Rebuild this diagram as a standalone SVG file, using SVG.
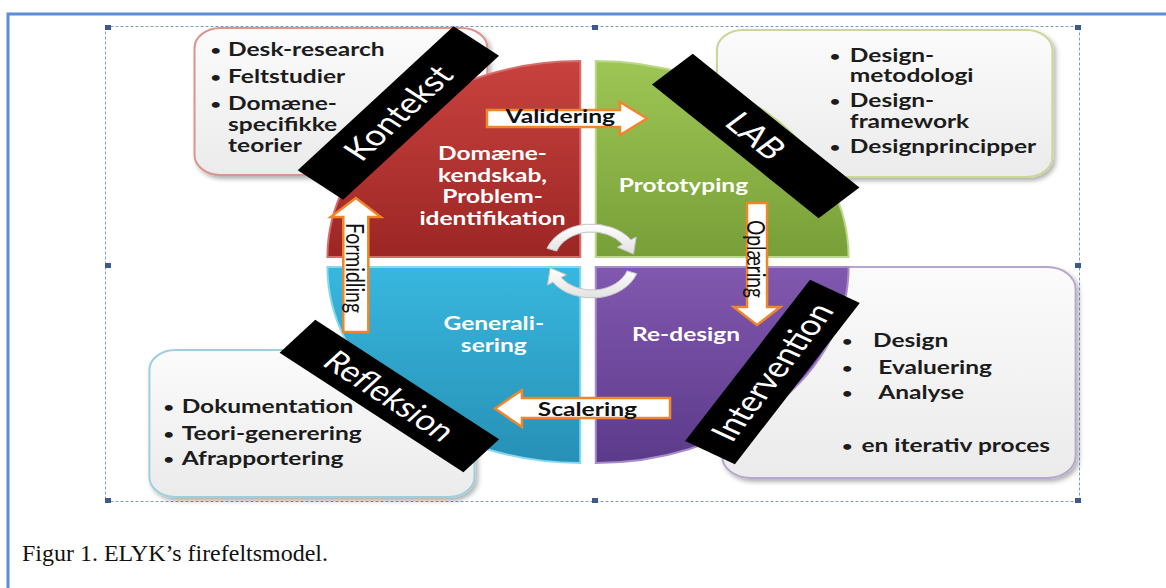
<svg xmlns="http://www.w3.org/2000/svg" width="1166" height="588" viewBox="0 0 1166 588">
  <style>
    .frame{fill:none;stroke:#5b8ed6;stroke-width:3}
    .sel{fill:none;stroke:#7f9cc4;stroke-width:1;stroke-dasharray:3 2}
    .handle{fill:#3d5a8a}
    .box{stroke-width:2;vector-effect:non-scaling-stroke}
    .item{font-family:Lato,"Open Sans",sans-serif;font-weight:700;font-size:19px;fill:#1c1c1c}
    .bullet{font-family:Lato,"Open Sans",sans-serif;font-weight:700;font-size:14px;fill:#1c1c1c;text-anchor:middle}
    .quad{stroke-width:2;vector-effect:non-scaling-stroke}
    .quad-label{font-family:Lato,"Open Sans",sans-serif;font-weight:700;font-size:19px;fill:#fff;text-anchor:middle}
    .band{fill:#000}
    .band-label{font-family:Lato,"Open Sans",sans-serif;font-size:29px;fill:#fff;text-anchor:middle}
    .flow{fill:#fff;stroke:#f0862a;stroke-width:2.5;stroke-linejoin:miter;vector-effect:non-scaling-stroke}
    .flow-label{font-family:Lato,"Open Sans",sans-serif;font-size:19px;fill:#111}
    .cycle{fill:url(#gCycle);stroke:#c4c4c4;stroke-width:1;vector-effect:non-scaling-stroke}
    .caption{font-family:"Liberation Serif",serif;font-size:23px;fill:#111}
  </style>
  <defs>
    <linearGradient id="gRed" x1="0" y1="0" x2="0" y2="1">
      <stop offset="0" stop-color="#c8423f"/><stop offset="1" stop-color="#9c2624"/>
    </linearGradient>
    <linearGradient id="gGreen" x1="0" y1="0" x2="0" y2="1">
      <stop offset="0" stop-color="#9dc655"/><stop offset="1" stop-color="#789f38"/>
    </linearGradient>
    <linearGradient id="gBlue" x1="0" y1="0" x2="0" y2="1">
      <stop offset="0" stop-color="#38b7de"/><stop offset="1" stop-color="#2790b6"/>
    </linearGradient>
    <linearGradient id="gPurple" x1="0" y1="0" x2="0" y2="1">
      <stop offset="0" stop-color="#8158af"/><stop offset="1" stop-color="#5c3a8a"/>
    </linearGradient>
    <linearGradient id="gBox" x1="0" y1="0" x2="0" y2="1">
      <stop offset="0" stop-color="#fbfbfb"/><stop offset="1" stop-color="#ebebeb"/>
    </linearGradient>
    <linearGradient id="gCycle" x1="0" y1="0" x2="0" y2="1">
      <stop offset="0" stop-color="#ffffff"/><stop offset="1" stop-color="#e2e2e2"/>
    </linearGradient>
    <filter id="shadow" x="-10%" y="-10%" width="125%" height="130%">
      <feDropShadow dx="2" dy="3" stdDeviation="2" flood-color="#000" flood-opacity="0.3"/>
    </filter>
  </defs>

  <!-- page frame and selection outline -->
  <path class="frame" d="M8,588 V14 H1166"/>
  <rect class="sel" x="105.5" y="26.5" width="974" height="475"/>
  <g id="handles">
    <rect class="handle" x="105" y="25" width="6" height="5"/>
    <rect class="handle" x="592" y="25" width="6" height="5"/>
    <rect class="handle" x="1075" y="25" width="6" height="5"/>
    <rect class="handle" x="105" y="263" width="6" height="5"/>
    <rect class="handle" x="1075" y="263" width="6" height="5"/>
    <rect class="handle" x="105" y="498" width="6" height="5"/>
    <rect class="handle" x="592" y="498" width="6" height="5"/>
    <rect class="handle" x="1075" y="498" width="6" height="5"/>
  </g>

  <!-- the model is laid out on a circle and widened horizontally -->
  <g id="model" transform="matrix(1.29,0,0,1,-170.52,0)">

    <g id="box-kontekst">
      <rect class="box" x="283" y="28" width="227" height="147" rx="20" fill="url(#gBox)" stroke="#d9958f" filter="url(#shadow)"/>
      <text class="bullet" x="299.5" y="55">•</text>
      <text class="item" x="309" y="56">Desk-research</text>
      <text class="bullet" x="299.5" y="82">•</text>
      <text class="item" x="309" y="83">Feltstudier</text>
      <text class="bullet" x="299.5" y="109">•</text>
      <text class="item" x="309" y="110">Domæne-</text>
      <text class="item" x="309" y="131">specifikke</text>
      <text class="item" x="309" y="152">teorier</text>
    </g>

    <g id="box-lab">
      <rect class="box" x="688" y="30" width="260" height="147" rx="20" fill="url(#gBox)" stroke="#c9d69c" filter="url(#shadow)"/>
      <text class="bullet" x="779.5" y="61">•</text>
      <text class="item" x="791" y="62">Design-</text>
      <text class="item" x="791" y="82">metodologi</text>
      <text class="bullet" x="779.5" y="106">•</text>
      <text class="item" x="791" y="107">Design-</text>
      <text class="item" x="791" y="128">framework</text>
      <text class="bullet" x="779.5" y="152">•</text>
      <text class="item" x="791" y="153">Designprincipper</text>
    </g>

    <g id="box-intervention">
      <rect class="box" x="692" y="267" width="274" height="211" rx="22" fill="url(#gBox)" stroke="#b6a7cc" filter="url(#shadow)"/>
      <text class="bullet" x="789" y="346">•</text>
      <text class="item" x="809" y="347">Design</text>
      <text class="bullet" x="789" y="373">•</text>
      <text class="item" x="813" y="374">Evaluering</text>
      <text class="bullet" x="789" y="398">•</text>
      <text class="item" x="813" y="399">Analyse</text>
      <text class="bullet" x="789" y="451">•</text>
      <text class="item" x="800" y="452">en iterativ proces</text>
    </g>

    <g id="box-refleksion">
      <rect class="box" x="248" y="350" width="252" height="147" rx="20" fill="url(#gBox)" stroke="#9fcfdc" filter="url(#shadow)"/>
      <text class="bullet" x="263" y="412">•</text>
      <text class="item" x="273" y="413">Dokumentation</text>
      <text class="bullet" x="263" y="439">•</text>
      <text class="item" x="273" y="440">Teori-generering</text>
      <text class="bullet" x="263" y="464">•</text>
      <text class="item" x="273" y="465">Afrapportering</text>
    </g>

    <!-- four quadrants -->
    <g id="quad-domaene">
      <path class="quad" d="M582,257 L386,257 A196,196 0 0 1 582,61 Z" fill="url(#gRed)" stroke="#d56e6b"/>
      <text class="quad-label"><tspan x="514" y="160">Domæne-</tspan><tspan x="514" y="182">kendskab,</tspan><tspan x="514" y="203">Problem-</tspan><tspan x="514" y="225">identifikation</tspan></text>
    </g>
    <g id="quad-prototyping">
      <path class="quad" d="M594,257 L594,61 A196,196 0 0 1 790,257 Z" fill="url(#gGreen)" stroke="#bcd98a"/>
      <text class="quad-label" x="662" y="192">Prototyping</text>
    </g>
    <g id="quad-generalisering">
      <path class="quad" d="M582,267 L582,463 A196,196 0 0 1 386,267 Z" fill="url(#gBlue)" stroke="#86d8f0"/>
      <text class="quad-label"><tspan x="515" y="330">Generali-</tspan><tspan x="515" y="352">sering</tspan></text>
    </g>
    <g id="quad-redesign">
      <path class="quad" d="M594,267 L790,267 A196,196 0 0 1 594,463 Z" fill="url(#gPurple)" stroke="#a78bcb"/>
      <text class="quad-label" x="664" y="341">Re-design</text>
    </g>

    <!-- connectors -->
    <g id="connectors">
      <path class="cycle" d="M556.2,248.3 A37,37 0 0 1 621.3,239.8 L625.4,236.9 L623.3,254.1 L610.7,247.2 L614.8,244.4 A29,29 0 0 0 563.7,251.1 Z"/>
      <path class="cycle" d="M625.8,273.7 A37,37 0 0 1 560.7,282.2 L556.6,285.1 L558.7,267.9 L571.3,274.8 L567.2,277.6 A29,29 0 0 0 618.3,270.9 Z"/>

      <polygon class="flow" points="509.7,110 612.8,110 612.8,102 633.7,118.5 612.8,135 612.8,127 509.7,127"/>
      <text class="flow-label" x="524" y="123" font-weight="700" textLength="85" lengthAdjust="spacingAndGlyphs">Validering</text>

      <polygon class="flow" points="711.3,203 726.8,203 726.8,307 737,307 719,325 701,307 711.3,307"/>
      <text class="flow-label" x="0" y="0" text-anchor="middle" dominant-baseline="central" transform="translate(719,259) rotate(90)" textLength="78" lengthAdjust="spacingAndGlyphs">Oplæring</text>

      <polygon class="flow" points="651.6,398 536.8,398 536.8,390 515.9,408.5 536.8,427 536.8,418 651.6,418"/>
      <text class="flow-label" x="549" y="416" font-weight="700" textLength="77" lengthAdjust="spacingAndGlyphs">Scalering</text>

      <polygon class="flow" points="398.3,332 398.3,217 388.6,217 408,198 427.4,217 417.7,217 417.7,332"/>
      <text class="flow-label" x="0" y="0" text-anchor="middle" dominant-baseline="central" transform="translate(408,268) rotate(90)" textLength="90" lengthAdjust="spacingAndGlyphs">Formidling</text>
    </g>

    <!-- black labels across the quadrant corners -->
    <g id="band-kontekst" transform="translate(441,113) rotate(-50)">
      <rect class="band" x="-94" y="-23" width="188" height="46"/>
      <text class="band-label" x="0" y="10" textLength="113" lengthAdjust="spacingAndGlyphs">Kontekst</text>
    </g>
    <g id="band-lab" transform="translate(718,136) rotate(46)">
      <rect class="band" x="-93" y="-22" width="186" height="44"/>
      <text class="band-label" x="0" y="10" textLength="52" lengthAdjust="spacingAndGlyphs">LAB</text>
    </g>
    <g id="band-refleksion" transform="translate(434,396) rotate(40)">
      <rect class="band" x="-93" y="-21.5" width="186" height="43"/>
      <text class="band-label" x="0" y="10" textLength="122" lengthAdjust="spacingAndGlyphs">Refleksion</text>
    </g>
    <g id="band-intervention" transform="translate(731,372) rotate(-59)">
      <rect class="band" x="-94" y="-22.5" width="188" height="45"/>
      <text class="band-label" x="0" y="10" textLength="155" lengthAdjust="spacingAndGlyphs">Intervention</text>
    </g>
  </g>

  <text class="caption" x="22" y="561" textLength="306" lengthAdjust="spacingAndGlyphs">Figur 1. ELYK’s firefeltsmodel.</text>
</svg>
